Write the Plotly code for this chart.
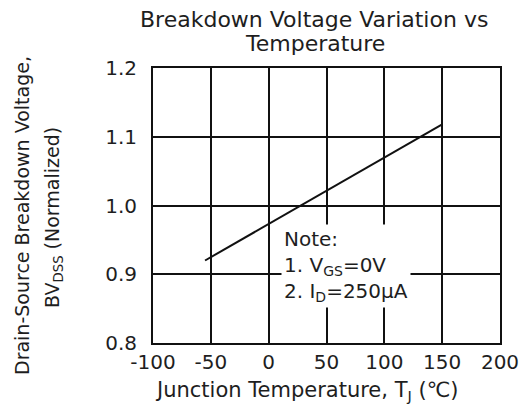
import plotly.graph_objects as go

# Data
temperature_c = [-55, 150]
bv_normalized = [0.92, 1.118]

x_ticks = [-100, -50, 0, 50, 100, 150, 200]
y_ticks = [0.8, 0.9, 1.0, 1.1, 1.2]

title_lines = ["Breakdown Voltage Variation vs", "Temperature"]
x_title = "Junction Temperature, T<sub>J</sub> (\u2103)"
y_title_lines = ["Drain-Source Breakdown Voltage,", "BV<sub>DSS</sub> (Normalized)"]
note_text = "Note:<br>1. V<sub>GS</sub>=0V<br>2. I<sub>D</sub>=250\u03bcA"

FONT = "DejaVu Sans"
TXT = "#1e1e1e"

# the page body has a default 8px margin; the figure is sized to fill the rest
OFF = 8
W, H = 530 - OFF, 408 - OFF
# plot area in window pixels: x 153..500, y 68..343
L = 153 - OFF
T = 68 - OFF
R = W - (500 - OFF)
B = H - (343 - OFF)
pw, ph = W - L - R, H - T - B

fig = go.Figure()
fig.add_trace(go.Scatter(
    x=temperature_c, y=bv_normalized, mode="lines",
    line=dict(color="#111111", width=2), showlegend=False, hoverinfo="skip",
))


def px_x(px):
    return (px - OFF - L) / pw


def px_y(py):
    return (H - B - (py - OFF)) / ph


ann = []
ann.append(dict(text=title_lines[0], x=px_x(314), y=px_y(20), xref="paper", yref="paper",
                showarrow=False, xanchor="center", yanchor="middle",
                font=dict(family=FONT, size=22, color=TXT)))
ann.append(dict(text=title_lines[1], x=px_x(315), y=px_y(43), xref="paper", yref="paper",
                showarrow=False, xanchor="center", yanchor="middle",
                font=dict(family=FONT, size=22, color=TXT)))
ann.append(dict(text=x_title, x=px_x(306), y=px_y(391), xref="paper", yref="paper",
                showarrow=False, xanchor="center", yanchor="middle",
                font=dict(family=FONT, size=21, color=TXT)))
ann.append(dict(text=y_title_lines[0], x=px_x(22), y=px_y(216), xref="paper", yref="paper",
                showarrow=False, xanchor="center", yanchor="middle", textangle=-90,
                font=dict(family=FONT, size=19, color=TXT)))
ann.append(dict(text=y_title_lines[1], x=px_x(53), y=px_y(218), xref="paper", yref="paper",
                showarrow=False, xanchor="center", yanchor="middle", textangle=-90,
                font=dict(family=FONT, size=19, color=TXT)))
ann.append(dict(text=note_text, x=px_x(281), y=px_y(266), xref="paper", yref="paper",
                showarrow=False, xanchor="left", yanchor="middle", align="left",
                bgcolor="white", borderpad=2,
                font=dict(family=FONT, size=20, color=TXT)))

fig.update_layout(
    width=W, height=H,
    margin=dict(l=L, r=R, t=T, b=B, autoexpand=False),
    paper_bgcolor="white", plot_bgcolor="white",
    font=dict(family=FONT, size=20, color=TXT),
    annotations=ann,
    showlegend=False,
)
fig.update_xaxes(
    range=[-100, 200], tickvals=x_ticks, ticktext=[str(v) for v in x_ticks],
    showgrid=True, gridcolor="#111111", gridwidth=2,
    showline=True, linecolor="#111111", linewidth=2, mirror=True,
    zeroline=False, ticks="", ticklabelstandoff=0, automargin=False,
    tickfont=dict(family=FONT, size=20, color=TXT),
)
fig.update_yaxes(
    range=[0.8, 1.2], tickvals=y_ticks, ticktext=[f"{v:.1f}" for v in y_ticks],
    showgrid=True, gridcolor="#111111", gridwidth=2,
    showline=True, linecolor="#111111", linewidth=2, mirror=True,
    zeroline=False, ticks="", ticklabelstandoff=10, automargin=False,
    tickfont=dict(family=FONT, size=20, color=TXT),
)

fig.write_html("out.html")
